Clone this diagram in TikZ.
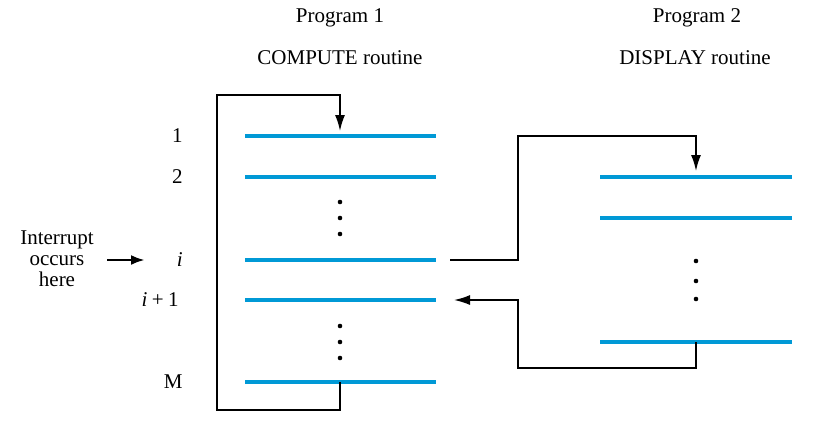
\documentclass[tikz,border=0pt]{standalone}
\usepackage{fontspec}
\setmainfont{Liberation Serif}
\usetikzlibrary{arrows.meta}
\definecolor{rblue}{RGB}{0,153,214}
\begin{document}
\begin{tikzpicture}[x=0.5pt,y=-0.5pt,
  instr/.style={draw=rblue,line width=2pt},
  conn/.style={draw=black,line width=0.85pt},
  tip/.style={-{Latex[length=8pt,width=5pt]}},
  lbl/.style={inner sep=0pt,font=\fontsize{10.5}{10.5}\selectfont},
  dotc/.style={fill=black,circle,inner sep=0pt,minimum size=2.3pt}]
\useasboundingbox (0,0) rectangle (816,425);
% titles
\node[lbl] (p1) at (340,18) {Program 1};
\node[lbl] (c1) at (340,58) {COMPUTE routine};
\node[lbl] (p2) at (697,18) {Program 2};
\node[lbl] (d2) at (695,58) {DISPLAY routine};
% Program 1 instructions
\foreach \n/\y in {a1/136,a2/177,ai/260,aj/300,aM/382}{
  \coordinate (\n L) at (245,\y);
  \coordinate (\n R) at (436,\y);
  \coordinate (\n C) at (340,\y);
  \draw[instr] (\n L) -- (\n R);
}
\coordinate (a1T) at (340,131);
\foreach \n/\y in {d1/202,d2/218,d3/234,d4/326,d5/342,d6/358}{
  \node[dotc] (\n) at (340,\y) {};
}
% labels
\node[lbl,anchor=east] (l1) at (183,136) {1};
\node[lbl,anchor=east] (l2) at (183,177) {2};
\node[lbl,anchor=east] (li) at (183,260) {\textit{i}};
\node[lbl,anchor=east] (lj) at (179,300) {\textit{i}\hspace{2.2pt}+\hspace{2.2pt}1};
\node[lbl,anchor=east] (lM) at (183,382) {M};
\node[lbl,align=center] (intr) at (57,259) {Interrupt\\occurs\\here};
\coordinate (ia) at (107,260);
\coordinate (ib) at (145,260);
\draw[line width=1.4pt,-{Latex[length=7pt,width=5pt]}] (ia) -- (ib);
% Program 2 instructions
\foreach \n/\y in {b1/177,b2/218,bN/342}{
  \coordinate (\n L) at (600,\y);
  \coordinate (\n R) at (792,\y);
  \coordinate (\n C) at (696,\y);
  \draw[instr] (\n L) -- (\n R);
}
\coordinate (b1T) at (696,171);
\foreach \n/\y in {e1/261,e2/281,e3/299}{
  \node[dotc] (\n) at (696,\y) {};
}
% program 1 loop
\draw[conn,tip] (aMC) -- ++(0,28) -| (217,95) -| (a1T);
% call to program 2
\coordinate (cs) at (450,260);
\draw[conn,tip] (cs) -| (518,136) -| (b1T);
% return
\coordinate (ce) at (454,300);
\draw[conn,tip] (bNC) -- ++(0,26) -| (518,300) -- (ce);
\end{tikzpicture}
\end{document}
